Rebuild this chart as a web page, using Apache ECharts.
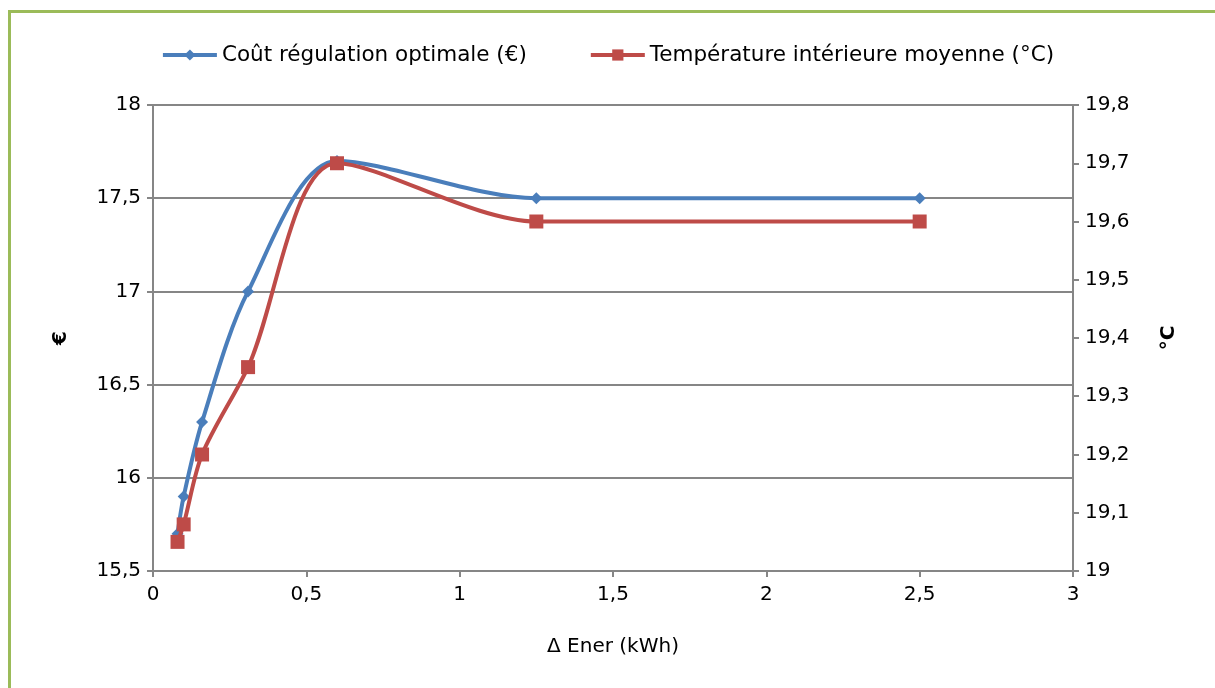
<!DOCTYPE html>
<html>
<head>
<meta charset="utf-8">
<script src="https://cdn.jsdelivr.net/npm/echarts@6/dist/echarts.min.js"></script>
<style>
html,body{margin:0;padding:0;background:#fff;}
#chart{width:1215px;height:688px;}
</style>
</head>
<body>
<div id="chart"></div>
<script>
var deltaEner = [0.08, 0.1, 0.16, 0.31, 0.6, 1.25, 2.5];
var coutRegulation = [15.7, 15.9, 16.3, 17.0, 17.7, 17.5, 17.5];
var temperatureMoyenne = [19.05, 19.08, 19.2, 19.35, 19.7, 19.6, 19.6];
var seriesNames = ['Coût régulation optimale (€)', 'Température intérieure moyenne (°C)'];
var xAxisTitle = 'Δ Ener (kWh)';
var leftAxisTitle = '€';
var rightAxisTitle = '°C';

function pairs(xs, ys) { return xs.map(function (x, i) { return [x, ys[i]]; }); }
function fmt(dec) {
  return function (v) { return (+v.toFixed(dec)).toString().replace('.', ','); };
}

var FONT = 'DejaVu Sans';
var axisGray = '#868686';

var chart = echarts.init(document.getElementById('chart'), null, {renderer: 'canvas'});
chart.setOption({
  backgroundColor: '#ffffff',
  animation: false,
  textStyle: {fontFamily: FONT},
  graphic: [{
    type: 'rect',
    shape: {x: 9.5, y: 11.5, width: 1400, height: 900},
    style: {fill: 'none', stroke: '#9BBB59', lineWidth: 3},
    silent: true
  }],
  legend: {
    top: 39,
    left: 'center',
    itemWidth: 54,
    itemHeight: 14,
    itemGap: 62,
    lineStyle: {width: 4},
    textStyle: {fontFamily: FONT, fontSize: 21.5, color: '#000'},
    data: seriesNames
  },
  grid: {left: 153, right: 142, top: 105, bottom: 117, containLabel: false},
  xAxis: {
    type: 'value',
    min: 0, max: 3, interval: 0.5,
    name: xAxisTitle,
    nameLocation: 'middle',
    nameGap: 66,
    nameTextStyle: {fontFamily: FONT, fontSize: 20, color: '#000'},
    axisLine: {show: true, onZero: false, lineStyle: {color: axisGray, width: 2}},
    axisTick: {show: true, inside: false, length: 6, lineStyle: {color: axisGray, width: 2}},
    axisLabel: {fontFamily: FONT, fontSize: 20, color: '#000', margin: 14, formatter: fmt(1)},
    splitLine: {show: false}
  },
  yAxis: [{
    type: 'value',
    position: 'left',
    min: 15.5, max: 18, interval: 0.5,
    name: leftAxisTitle,
    nameLocation: 'middle',
    nameRotate: 90,
    nameGap: 82,
    nameTextStyle: {fontFamily: FONT, fontSize: 20, fontWeight: 'bold', color: '#000'},
    axisLine: {show: true, lineStyle: {color: axisGray, width: 2}},
    axisTick: {show: true, length: 6, lineStyle: {color: axisGray, width: 2}},
    axisLabel: {fontFamily: FONT, fontSize: 20, color: '#000', margin: 12, formatter: fmt(1)},
    splitLine: {show: true, lineStyle: {color: axisGray, width: 2}}
  }, {
    type: 'value',
    position: 'right',
    min: 19, max: 19.8, interval: 0.1,
    name: rightAxisTitle,
    nameLocation: 'middle',
    nameRotate: 90,
    nameGap: 86,
    nameTextStyle: {fontFamily: FONT, fontSize: 20, fontWeight: 'bold', color: '#000'},
    axisLine: {show: true, lineStyle: {color: axisGray, width: 2}},
    axisTick: {show: true, length: 6, lineStyle: {color: axisGray, width: 2}},
    axisLabel: {fontFamily: FONT, fontSize: 20, color: '#000', margin: 12, formatter: fmt(1)},
    splitLine: {show: false}
  }],
  series: [{
    name: seriesNames[0],
    type: 'line',
    yAxisIndex: 0,
    data: pairs(deltaEner, coutRegulation),
    smooth: 0.3,
    symbol: 'diamond',
    symbolSize: 12,
    showAllSymbol: true,
    itemStyle: {color: '#4A7EBB'},
    lineStyle: {color: '#4A7EBB', width: 4},
    z: 2
  }, {
    name: seriesNames[1],
    type: 'line',
    yAxisIndex: 1,
    data: pairs(deltaEner, temperatureMoyenne),
    smooth: 0.3,
    symbol: 'rect',
    symbolSize: 14,
    showAllSymbol: true,
    itemStyle: {color: '#BE4B48'},
    lineStyle: {color: '#BE4B48', width: 4},
    z: 3
  }]
});
</script>
</body>
</html>
